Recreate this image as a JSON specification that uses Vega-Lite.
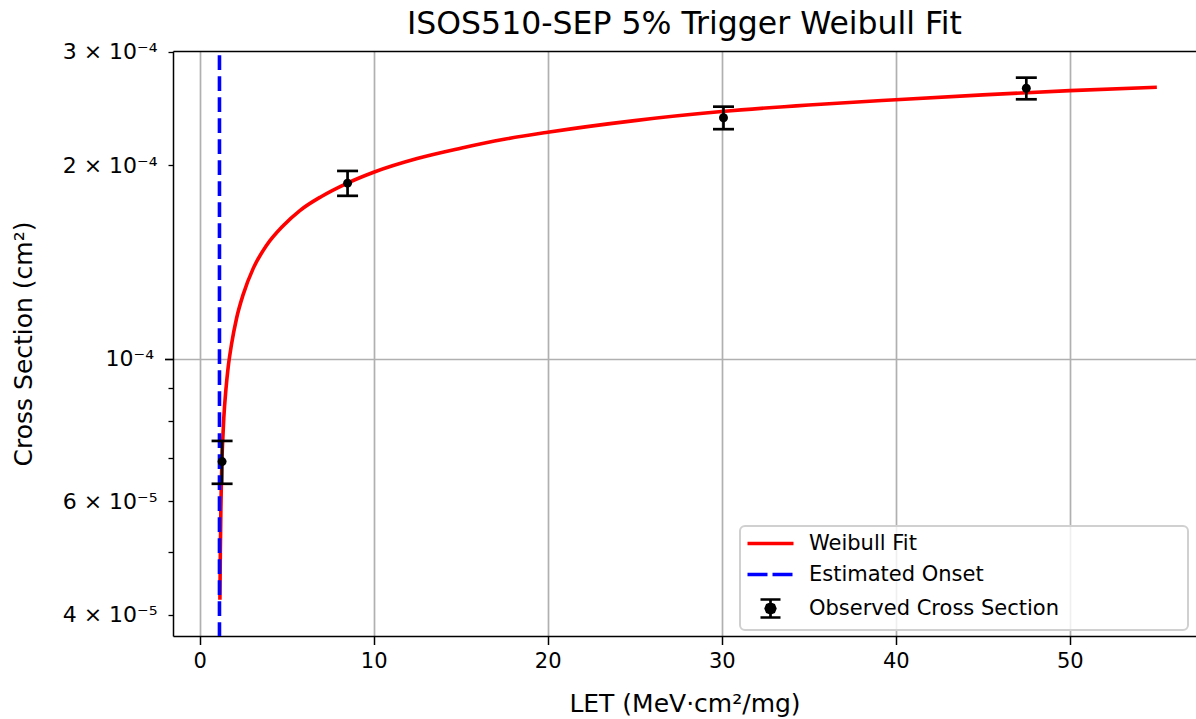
{
  "$schema": "https://vega.github.io/schema/vega-lite/v6.json",
  "width": 1023,
  "height": 585,
  "autosize": {"type": "none"},
  "padding": {"left": 173, "top": 51, "right": 0, "bottom": 83},
  "background": "white",
  "config": {
    "font": "DejaVu Sans",
    "view": {"stroke": null}
  },
  "title": {
    "text": "ISOS510-SEP 5% Trigger Weibull Fit",
    "fontSize": 31.5,
    "fontWeight": "normal",
    "color": "black",
    "frame": "group",
    "anchor": "middle",
    "baseline": "alphabetic",
    "offset": 15,
    "dy": 40
  },
  "datasets": {
    "fit": [
      {"LET": 1.165, "sigma": 4.22e-5},
      {"LET": 1.19, "sigma": 5.0e-5},
      {"LET": 1.22, "sigma": 5.8e-5},
      {"LET": 1.25, "sigma": 6.45e-5},
      {"LET": 1.28, "sigma": 6.95e-5},
      {"LET": 1.32, "sigma": 7.4e-5},
      {"LET": 1.39, "sigma": 8.1e-5},
      {"LET": 1.51, "sigma": 8.95e-5},
      {"LET": 1.64, "sigma": 9.7e-5},
      {"LET": 1.83, "sigma": 1.052e-4},
      {"LET": 2.12, "sigma": 1.155e-4},
      {"LET": 2.5, "sigma": 1.258e-4},
      {"LET": 3.08, "sigma": 1.382e-4},
      {"LET": 3.84, "sigma": 1.5e-4},
      {"LET": 4.8, "sigma": 1.61e-4},
      {"LET": 5.76, "sigma": 1.7e-4},
      {"LET": 7.0, "sigma": 1.788e-4},
      {"LET": 8.5, "sigma": 1.876e-4},
      {"LET": 10.0, "sigma": 1.95e-4},
      {"LET": 12.5, "sigma": 2.048e-4},
      {"LET": 15.0, "sigma": 2.125e-4},
      {"LET": 17.5, "sigma": 2.194e-4},
      {"LET": 20.0, "sigma": 2.25e-4},
      {"LET": 25.0, "sigma": 2.346e-4},
      {"LET": 30.0, "sigma": 2.423e-4},
      {"LET": 35.0, "sigma": 2.481e-4},
      {"LET": 40.0, "sigma": 2.528e-4},
      {"LET": 45.0, "sigma": 2.572e-4},
      {"LET": 50.0, "sigma": 2.612e-4},
      {"LET": 55.0, "sigma": 2.644e-4}
    ],
    "observed": [
      {"LET": 1.29, "sigma": 6.92e-5, "lo": 6.39e-5, "hi": 7.45e-5},
      {"LET": 8.5, "sigma": 1.875e-4, "lo": 1.792e-4, "hi": 1.959e-4},
      {"LET": 30.1, "sigma": 2.37e-4, "lo": 2.275e-4, "hi": 2.466e-4},
      {"LET": 47.5, "sigma": 2.634e-4, "lo": 2.532e-4, "hi": 2.736e-4}
    ],
    "onset": [
      {"LET": 1.14}
    ]
  },
  "resolve": {"axis": {"x": "independent"}},
  "layer": [
    {
      "data": {"name": "fit"},
      "mark": {"type": "line", "strokeWidth": 3.6, "clip": true, "interpolate": "monotone"},
      "encoding": {
        "x": {
          "field": "LET",
          "type": "quantitative",
          "scale": {"domain": [-1.53, 57.25], "nice": false, "zero": false},
          "axis": {
            "orient": "bottom",
            "values": [0, 10, 20, 30, 40, 50],
            "format": "d",
            "grid": true,
            "gridColor": "#b0b0b0",
            "gridWidth": 1.7,
            "domain": true,
            "domainColor": "black",
            "domainWidth": 1.5,
            "ticks": true,
            "tickColor": "black",
            "tickWidth": 1.5,
            "tickSize": 8.5,
            "labelFont": "DejaVu Sans",
            "labelFontSize": 21,
            "labelColor": "black",
            "labelPadding": 6,
            "labelFlush": false,
            "labelOverlap": false,
            "title": "LET (MeV·cm²/mg)",
            "titleFont": "DejaVu Sans",
            "titleFontSize": 25,
            "titleFontWeight": "normal",
            "titleColor": "black",
            "titleBaseline": "alphabetic",
            "titleY": 75
          }
        },
        "y": {
          "field": "sigma",
          "type": "quantitative",
          "title": "Cross Section (cm²)",
          "scale": {"type": "log", "domain": [3.705e-5, 3.01e-4], "nice": false},
          "axis": {
            "orient": "left",
            "values": [4e-5, 5e-5, 6e-5, 7e-5, 8e-5, 9e-5, 1e-4, 2e-4, 3e-4],
            "labelExpr": "datum.value > 0.00025 ? '3 × 10⁻⁴' : datum.value > 0.00015 ? '2 × 10⁻⁴' : datum.value > 0.000095 ? '10⁻⁴' : (datum.value > 0.000055 && datum.value < 0.000065) ? '6 × 10⁻⁵' : datum.value < 0.000045 ? '4 × 10⁻⁵' : ''",
            "grid": true,
            "gridColor": "#b0b0b0",
            "gridWidth": 1.7,
            "gridOpacity": {"condition": {"test": "datum.value > 0.000095 && datum.value < 0.000105", "value": 1}, "value": 0},
            "domain": true,
            "domainColor": "black",
            "domainWidth": 1.5,
            "ticks": true,
            "tickColor": "black",
            "tickSize": {"condition": {"test": "datum.value > 0.000095 && datum.value < 0.000105", "value": 8.5}, "value": 5},
            "tickWidth": {"condition": {"test": "datum.value > 0.000095 && datum.value < 0.000105", "value": 1.7}, "value": 1.3},
            "labelFont": "DejaVu Sans",
            "labelFontSize": 22,
            "labelColor": "black",
            "labelPadding": 11,
            "labelFlush": false,
            "labelOverlap": false,
            "labelBound": false,
            "titleFont": "DejaVu Sans",
            "titleFontSize": 25,
            "titleFontWeight": "normal",
            "titleColor": "black",
            "titleBaseline": "alphabetic",
            "titleX": -142,
            "titleY": 292.5
          }
        },
        "color": {
          "datum": "Weibull Fit",
          "scale": {
            "domain": ["Weibull Fit", "Estimated Onset", "Observed Cross Section"],
            "range": ["#ff0000", "#0000ff", "#000000"]
          },
          "legend": {
            "title": " ",
            "titleOrient": "right",
            "titleFontSize": 21,
            "titlePadding": 122,
            "orient": "none",
            "legendX": 567,
            "legendY": 475,
            "padding": 7,
            "rowPadding": 9,
            "symbolSize": 400,
            "symbolOffset": 13,
            "labelOffset": 28,
            "labelFont": "DejaVu Sans",
            "labelFontSize": 21,
            "labelColor": "black",
            "labelLimit": 400,
            "fillColor": "rgba(255,255,255,0.8)",
            "strokeColor": "#d0d0d0",
            "cornerRadius": 5,
            "encode": {
              "legend": {"update": {"strokeWidth": {"value": 2}}},
              "symbols": {
                "update": {
                  "shape": {"signal": "datum.value === 'Observed Cross Section' ? 'M-1,-0.9H1M0,-0.9V0.9M-1,0.9H1M-0.48,0L-0.34,-0.34L0,-0.48L0.34,-0.34L0.48,0L0.34,0.34L0,0.48L-0.34,0.34Z' : 'M-2.3,0H2.3'"},
                  "stroke": {"signal": "datum.value === 'Weibull Fit' ? '#ff0000' : datum.value === 'Estimated Onset' ? '#0000ff' : '#000000'"},
                  "fill": {"signal": "datum.value === 'Observed Cross Section' ? '#000000' : 'transparent'"},
                  "strokeWidth": {"signal": "datum.value === 'Observed Cross Section' ? 2.7 : 3.6"},
                  "strokeDash": {"signal": "datum.value === 'Estimated Onset' ? [20, 5] : null"},
                  "opacity": {"value": 1}
                }
              }
            }
          }
        }
      }
    },
    {
      "data": {"name": "onset"},
      "mark": {"type": "rule", "strokeWidth": 3.6, "strokeDash": [14.7, 6.3], "strokeDashOffset": 16.7},
      "encoding": {
        "x": {
          "field": "LET",
          "type": "quantitative",
          "axis": {
            "orient": "top",
            "labels": false,
            "ticks": false,
            "grid": false,
            "domain": true,
            "domainColor": "black",
            "domainWidth": 1.5,
            "title": null
          }
        },
        "color": {"datum": "Estimated Onset"}
      }
    },
    {
      "data": {"name": "observed"},
      "mark": {"type": "rule", "strokeWidth": 2.7},
      "encoding": {
        "x": {"field": "LET", "type": "quantitative", "axis": null},
        "y": {"field": "lo", "type": "quantitative", "title": "Cross Section (cm²)"},
        "y2": {"field": "hi"},
        "color": {"datum": "Observed Cross Section"}
      }
    },
    {
      "data": {"name": "observed"},
      "mark": {"type": "tick", "orient": "horizontal", "size": 21, "thickness": 2.7, "opacity": 1},
      "encoding": {
        "x": {"field": "LET", "type": "quantitative", "axis": null},
        "y": {"field": "lo", "type": "quantitative", "title": "Cross Section (cm²)"},
        "color": {"datum": "Observed Cross Section"}
      }
    },
    {
      "data": {"name": "observed"},
      "mark": {"type": "tick", "orient": "horizontal", "size": 21, "thickness": 2.7, "opacity": 1},
      "encoding": {
        "x": {"field": "LET", "type": "quantitative", "axis": null},
        "y": {"field": "hi", "type": "quantitative", "title": "Cross Section (cm²)"},
        "color": {"datum": "Observed Cross Section"}
      }
    },
    {
      "data": {"name": "observed"},
      "mark": {"type": "point", "filled": true, "size": 80, "opacity": 1},
      "encoding": {
        "x": {"field": "LET", "type": "quantitative", "axis": null},
        "y": {"field": "sigma", "type": "quantitative", "title": "Cross Section (cm²)"},
        "color": {"datum": "Observed Cross Section"}
      }
    }
  ]
}
